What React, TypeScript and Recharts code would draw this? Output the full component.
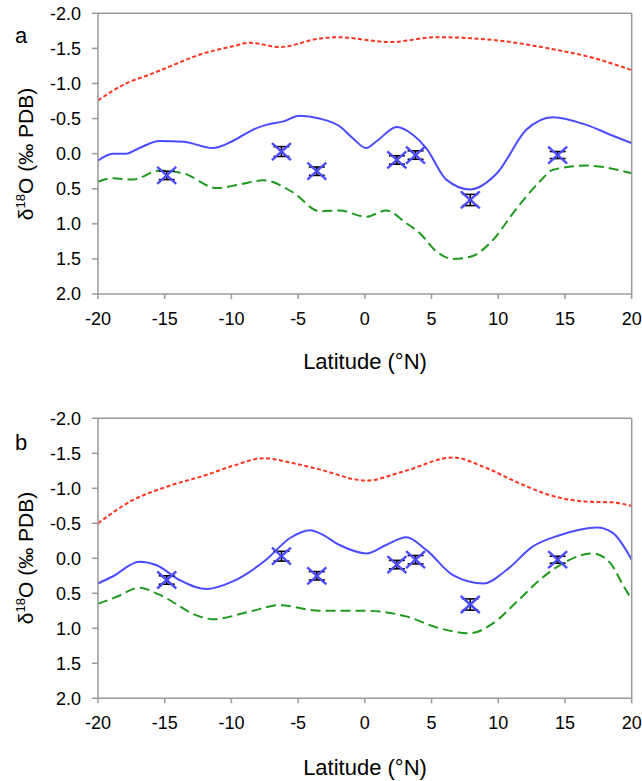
import React from "react";
import { ComposedChart, Line, Scatter, XAxis, YAxis, ErrorBar } from "recharts";

const latTicks = [-20, -15, -10, -5, 0, 5, 10, 15, 20];
const d18oTicks = [-2, -1.5, -1, -0.5, 0, 0.5, 1, 1.5, 2];

// Panel a
const aRedLat = [-20, -17.9, -16.1, -14.9, -12.4, -9.9, -8.6, -6.4, -3.4, -2.1, 1.9, 5.4, 9.6, 14.6, 16.6, 20];
const aRedVal = [-0.76, -1.0, -1.13, -1.22, -1.41, -1.53, -1.58, -1.52, -1.64, -1.66, -1.59, -1.66, -1.62, -1.47, -1.39, -1.19];

const aBlueLat = [-20, -18.9, -17.9, -16.9, -15.4, -13.6, -11.4, -9.9, -8.4, -7.4, -6.1, -4.9, -3.4, -1.9, -0.9, 0.1, 0.9, 2.4, 3.6, 4.6, 6.1, 7.9, 9.9, 12.1, 14.1, 16.6, 18.4, 20];
const aBlueVal = [0.1, 0.0, 0.0, -0.08, -0.18, -0.17, -0.08, -0.18, -0.34, -0.41, -0.46, -0.54, -0.5, -0.39, -0.22, -0.08, -0.18, -0.38, -0.27, -0.08, 0.37, 0.51, 0.28, -0.34, -0.52, -0.41, -0.27, -0.15];

const aGreenLat = [-20, -18.9, -17.4, -15.4, -13.6, -11.1, -9.4, -7.6, -5.4, -3.4, -1.9, 0.1, 1.6, 3.1, 4.1, 5.4, 6.6, 7.9, 9.6, 11.1, 12.1, 13.1, 14.1, 16.6, 20];
const aGreenVal = [0.4, 0.35, 0.37, 0.24, 0.28, 0.49, 0.44, 0.38, 0.55, 0.82, 0.81, 0.9, 0.81, 0.99, 1.13, 1.4, 1.5, 1.47, 1.23, 0.85, 0.61, 0.4, 0.23, 0.17, 0.28];

// Panel b
const bRedLat = [-20, -17.4, -14.9, -11.9, -9.9, -7.6, -5.4, -3.4, 0.1, 2.9, 6.6, 9.1, 11.6, 14.1, 16.6, 18.4, 20];
const bRedVal = [-0.5, -0.83, -1.02, -1.19, -1.32, -1.43, -1.36, -1.27, -1.11, -1.24, -1.44, -1.29, -1.07, -0.89, -0.81, -0.8, -0.75];

const bBlueLat = [-20, -18.9, -16.9, -15.6, -13.9, -11.9, -9.9, -7.4, -5.6, -4.1, -3.4, -1.9, 0.1, 1.6, 3.1, 4.6, 6.6, 8.9, 10.6, 12.6, 14.6, 17.4, 18.6, 20];
const bBlueVal = [0.36, 0.26, 0.05, 0.1, 0.31, 0.44, 0.33, 0.02, -0.29, -0.4, -0.36, -0.19, -0.07, -0.19, -0.3, -0.12, 0.24, 0.36, 0.17, -0.17, -0.33, -0.44, -0.36, 0.02];

const bGreenLat = [-20, -18.6, -16.9, -15.4, -12.4, -11.4, -8.6, -6.4, -3.4, 0.1, 3.1, 5.6, 7.9, 9.6, 11.4, 13.1, 14.6, 17.1, 18.4, 19.4, 20];
const bGreenVal = [0.65, 0.55, 0.42, 0.52, 0.83, 0.87, 0.76, 0.67, 0.75, 0.75, 0.83, 1.0, 1.07, 0.93, 0.62, 0.31, 0.1, -0.07, 0.07, 0.4, 0.59];

// Observations (both panels)
const obsLat = [-14.85, -6.25, -3.6, 2.4, 3.8, 7.9, 14.45];
const obsVal = [0.31, -0.03, 0.25, 0.09, 0.02, 0.66, 0.02];
const obsErr = [0.06, 0.07, 0.06, 0.06, 0.06, 0.08, 0.05];

const zip = (xs: number[], ys: number[]) => xs.map((x, i) => ({ x, y: ys[i] }));
const obsData = obsLat.map((x, i) => ({ x, y: obsVal[i], err: obsErr[i] }));

const FONT = "'Liberation Sans', Arial, Helvetica, sans-serif";
const AXIS = "#9a9a9a";
const RED = "#ff3320";
const BLUE = "#4b4bff";
const GREEN = "#1e9a1e";

const XShape = (props: any) => {
  const { cx, cy } = props;
  if (cx == null || cy == null) return null;
  return (
    <g>
      <line x1={cx - 9.5} y1={cy - 8.5} x2={cx + 9.5} y2={cy + 8.5} stroke={BLUE} strokeWidth={2.4} />
      <line x1={cx - 9.5} y1={cy + 8.5} x2={cx + 9.5} y2={cy - 8.5} stroke={BLUE} strokeWidth={2.4} />
    </g>
  );
};

type PanelProps = {
  red: { x: number; y: number }[];
  blue: { x: number; y: number }[];
  green: { x: number; y: number }[];
  height: number;
  mTop: number;
  mBottom: number;
};

const Panel = ({ red, blue, green, height, mTop, mBottom }: PanelProps) => (
  <ComposedChart
    width={642}
    height={height}
    margin={{ top: mTop, right: 0.3, bottom: mBottom, left: 38 }}
  >
    <XAxis
      xAxisId={0}
      dataKey="x"
      type="number"
      domain={[-20, 20]}
      ticks={latTicks}
      interval={0}
      height={30}
      stroke={AXIS}
      strokeWidth={1.5}
      tickSize={5}
      tickMargin={13}
      tick={{ fontSize: 18, fill: "#000", fontFamily: FONT }}
    />
    <XAxis
      xAxisId="top"
      orientation="top"
      type="number"
      domain={[-20, 20]}
      ticks={latTicks}
      interval={0}
      height={10}
      stroke={AXIS}
      strokeWidth={1.5}
      tickSize={5}
      tick={false}
    />
    <YAxis
      yAxisId={0}
      type="number"
      domain={[-2, 2]}
      reversed
      ticks={d18oTicks}
      interval={0}
      width={60}
      stroke={AXIS}
      strokeWidth={1.5}
      tickSize={6}
      tickMargin={11}
      tickFormatter={(v: number) => v.toFixed(1)}
      tick={{ fontSize: 18, fill: "#000", fontFamily: FONT }}
    />
    <YAxis
      yAxisId="right"
      orientation="right"
      type="number"
      domain={[-2, 2]}
      reversed
      ticks={d18oTicks}
      interval={0}
      width={10}
      stroke={AXIS}
      strokeWidth={1.5}
      tickSize={5}
      tick={false}
    />
    <Line
      data={red}
      dataKey="y"
      type="monotone"
      stroke={RED}
      strokeWidth={2}
      strokeDasharray="4 2.5"
      dot={false}
      isAnimationActive={false}
    />
    <Line
      data={green}
      dataKey="y"
      type="monotone"
      stroke={GREEN}
      strokeWidth={2}
      strokeDasharray="10 5"
      dot={false}
      isAnimationActive={false}
    />
    <Line
      data={blue}
      dataKey="y"
      type="monotone"
      stroke={BLUE}
      strokeWidth={2}
      dot={false}
      isAnimationActive={false}
    />
    <Scatter data={obsData} dataKey="y" shape={<XShape />} isAnimationActive={false}>
      <ErrorBar dataKey="err" direction="y" width={8} stroke="#000" strokeWidth={1.6} />
    </Scatter>
  </ComposedChart>
);

const YLabel = ({ cy }: { cy: number }) => (
  <text
    transform={`translate(33,${cy}) rotate(-90)`}
    textAnchor="middle"
    fontSize={21}
    fontFamily={FONT}
    fill="#000"
  >
    δ<tspan fontSize={13} dy={-8}>18</tspan>
    <tspan dy={8}>O (‰ PDB)</tspan>
  </text>
);

export default function App() {
  return (
    <div
      style={{
        position: "absolute",
        left: 0,
        top: 0,
        width: 642,
        height: 781,
        background: "#fff",
        overflow: "hidden",
      }}
    >
      <div style={{ position: "absolute", left: 0, top: 0 }}>
        <Panel
          red={zip(aRedLat, aRedVal)}
          blue={zip(aBlueLat, aBlueVal)}
          green={zip(aGreenLat, aGreenVal)}
          height={400}
          mTop={3.3}
          mBottom={76}
        />
      </div>
      <div style={{ position: "absolute", left: 0, top: 400 }}>
        <Panel
          red={zip(bRedLat, bRedVal)}
          blue={zip(bBlueLat, bBlueVal)}
          green={zip(bGreenLat, bGreenVal)}
          height={381}
          mTop={8.3}
          mBottom={52.7}
        />
      </div>
      <svg
        width={642}
        height={781}
        style={{ position: "absolute", left: 0, top: 0, pointerEvents: "none" }}
      >
        <text x={15} y={43} fontSize={22} fontFamily={FONT} fill="#000">a</text>
        <text x={15} y={450} fontSize={22} fontFamily={FONT} fill="#000">b</text>
        <text x={365} y={369} textAnchor="middle" fontSize={22} fontFamily={FONT} fill="#000">
          Latitude (°N)
        </text>
        <text x={365} y={775} textAnchor="middle" fontSize={22} fontFamily={FONT} fill="#000">
          Latitude (°N)
        </text>
        <YLabel cy={154} />
        <YLabel cy={558} />
      </svg>
    </div>
  );
}
